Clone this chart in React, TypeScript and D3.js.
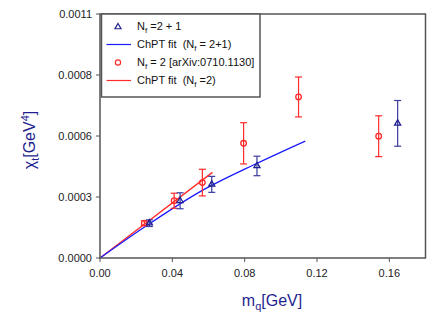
import * as d3 from 'd3'

// axis ticks
const X_TICKS = [0, 0.04, 0.08, 0.12, 0.16]
const X_TICK_LABELS = ['0.00', '0.04', '0.08', '0.12', '0.16']
const Y_TICKS = [0, 0.000275, 0.00055, 0.000825, 0.0011]
const Y_TICK_LABELS = ['0.0000', '0.0003', '0.0006', '0.0008', '0.0011']

// N_f = 2+1 lattice points
const NF3_MQ = [0.0273, 0.0443, 0.0618, 0.0868, 0.1646]
const NF3_CHI = [0.000157, 0.000258, 0.000332, 0.000415, 0.000607]
const NF3_ERR = [0.000015, 0.000036, 0.000036, 0.000044, 0.000103]

// N_f = 2 points [arXiv:0710.1130]
const NF2_MQ = [0.0245, 0.041, 0.0566, 0.0794, 0.1098, 0.1541]
const NF2_CHI = [0.000157, 0.000258, 0.00034, 0.000517, 0.000726, 0.000549]
const NF2_ERR = [0.00001, 0.000034, 0.00006, 0.000093, 0.00009, 0.000092]

// ChPT fit curves
const FIT3_MQ = [0, 0.0271, 0.0554, 0.0869, 0.1135]
const FIT3_CHI = [0, 0.000153, 0.000299, 0.000427, 0.000527]
const FIT2_MQ = [0, 0.0622]
const FIT2_CHI = [0, 0.000386]

const W = 436
const H = 327
const FONT = "'Liberation Sans', Arial, sans-serif"
const AXIS = '#555'
const NAVY = '#1f1f8f'
const BLUE = '#1a1aff'
const RED = '#ff2a2a'
const GAP = '\u00a0\u00a0'

export default function App() {
  const x = d3.scaleLinear().domain([0, 0.18]).range([100, 425.5])
  const y = d3.scaleLinear().domain([0, 0.0011]).range([258, 14])

  const line = d3
    .line<[number, number]>()
    .x((d) => x(d[0]))
    .y((d) => y(d[1]))
    .curve(d3.curveMonotoneX)

  const fit3 = line(FIT3_MQ.map((m, i) => [m, FIT3_CHI[i]]))
  const fit2 = line(FIT2_MQ.map((m, i) => [m, FIT2_CHI[i]]))
  const tri = d3.symbol(d3.symbolTriangle, 16)()

  const errBar = (mx: number, c: number, e: number, color: string, key: string) => {
    const px = x(mx)
    const y0 = y(c - e)
    const y1 = y(c + e)
    return (
      <g key={key} stroke={color} strokeWidth={1.2}>
        <line x1={px} x2={px} y1={y0} y2={y1} />
        <line x1={px - 3.5} x2={px + 3.5} y1={y0} y2={y0} />
        <line x1={px - 3.5} x2={px + 3.5} y1={y1} y2={y1} />
      </g>
    )
  }

  const [x0, x1] = x.range()
  const [y0, y1] = y.range()

  return (
    <div style={{ position: 'fixed', left: 0, top: 0 }}>
      <svg width={W} height={H} style={{ display: 'block', background: '#fff' }} fontFamily={FONT}>
        {/* fits */}
        <path d={fit2 ?? ''} fill="none" stroke={RED} strokeWidth={1.3} />
        <path d={fit3 ?? ''} fill="none" stroke={BLUE} strokeWidth={1.3} />

        {/* N_f = 2 points */}
        {NF2_MQ.map((m, i) => errBar(m, NF2_CHI[i], NF2_ERR[i], RED, `e2-${i}`))}
        {NF2_MQ.map((m, i) => (
          <circle key={`p2-${i}`} cx={x(m)} cy={y(NF2_CHI[i])} r={2.8} fill="none" stroke={RED} strokeWidth={1.3} />
        ))}

        {/* N_f = 2+1 points */}
        {NF3_MQ.map((m, i) => errBar(m, NF3_CHI[i], NF3_ERR[i], '#3a3aa0', `e3-${i}`))}
        {NF3_MQ.map((m, i) => (
          <path
            key={`p3-${i}`}
            d={tri ?? ''}
            transform={`translate(${x(m)},${y(NF3_CHI[i])})`}
            fill="none"
            stroke={NAVY}
            strokeWidth={1.3}
          />
        ))}

        {/* frame */}
        <rect x={x0} y={y1} width={x1 - x0} height={y0 - y1} fill="none" stroke={AXIS} strokeWidth={1.5} />

        {/* x axis */}
        {X_TICKS.map((t, i) => (
          <g key={`xt-${i}`}>
            <line x1={x(t)} x2={x(t)} y1={y0} y2={y0 + 4} stroke={AXIS} strokeWidth={1} />
            <text x={x(t)} y={y0 + 19} textAnchor="middle" fontSize={11} fill="#222">
              {X_TICK_LABELS[i]}
            </text>
          </g>
        ))}

        {/* y axis */}
        {Y_TICKS.map((t, i) => (
          <g key={`yt-${i}`}>
            <line x1={x0 - 4} x2={x0} y1={y(t)} y2={y(t)} stroke={AXIS} strokeWidth={1} />
            <text x={x0 - 8} y={y(t)} dy="0.35em" textAnchor="end" fontSize={11} fill="#222">
              {Y_TICK_LABELS[i]}
            </text>
          </g>
        ))}

        {/* axis titles */}
        <text x={272} y={306} textAnchor="middle" fontSize={16} fill={NAVY}>
          m<tspan fontSize={11} dy={4}>q</tspan>
          <tspan dy={-4}>[GeV]</tspan>
        </text>
        <text transform="translate(35,140) rotate(-90)" textAnchor="middle" fontSize={16} fill={NAVY}>
          χ<tspan fontSize={11} dy={4}>t</tspan>
          <tspan dy={-4}>[GeV</tspan>
          <tspan fontSize={11} dy={-6}>4</tspan>
          <tspan dy={6}>]</tspan>
        </text>

        {/* legend */}
        <g fontSize={11} fill="#111">
          <rect x={101.5} y={y1} width={158.5} height={83} fill="#fff" stroke={AXIS} strokeWidth={1.5} />
          <path d={tri ?? ''} transform="translate(118,27)" fill="none" stroke={NAVY} strokeWidth={1.2} />
          <text x={137} y={30}>
            N<tspan fontSize={8} dy={3}>f</tspan>
            <tspan dy={-3}> =2 + 1</tspan>
          </text>
          <line x1={106.5} x2={131} y1={44.5} y2={44.5} stroke={BLUE} strokeWidth={1.2} />
          <text x={137} y={48}>
            {`ChPT fit${GAP}(N`}<tspan fontSize={8} dy={3}>f</tspan>
            <tspan dy={-3}> = 2+1)</tspan>
          </text>
          <circle cx={118} cy={62.5} r={2.6} fill="none" stroke={RED} strokeWidth={1.2} />
          <text x={137} y={66}>
            N<tspan fontSize={8} dy={3}>f</tspan>
            <tspan dy={-3}> = 2 [arXiv:0710.1130]</tspan>
          </text>
          <line x1={106.5} x2={131} y1={80.5} y2={80.5} stroke={RED} strokeWidth={1.2} />
          <text x={137} y={84}>
            {`ChPT fit${GAP}(N`}<tspan fontSize={8} dy={3}>f</tspan>
            <tspan dy={-3}> =2)</tspan>
          </text>
        </g>
      </svg>
    </div>
  )
}
